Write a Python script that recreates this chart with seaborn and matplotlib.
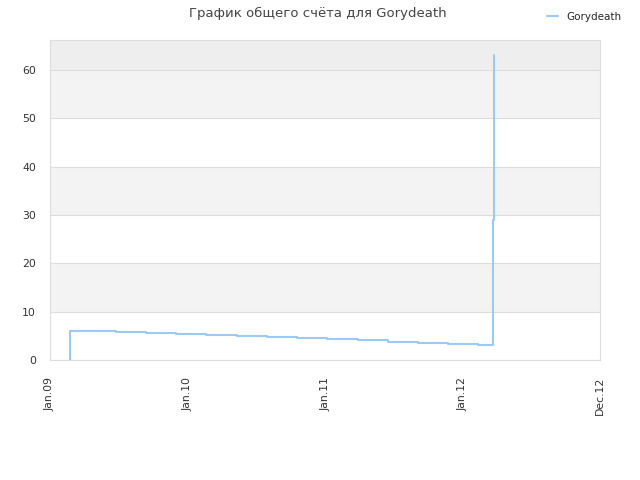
import matplotlib
matplotlib.use("Agg")
import matplotlib.pyplot as plt
import pandas as pd
import seaborn as sns

# score history (step series)
dates = ["2009-02-23", "2009-02-23", "2009-04-06", "2009-06-25", "2009-09-13",
         "2009-12-01", "2010-02-19", "2010-05-12", "2010-07-31", "2010-10-19",
         "2011-01-06", "2011-03-29", "2011-06-16", "2011-09-04", "2011-11-23",
         "2012-02-11", "2012-03-22", "2012-03-24"]
scores = [0, 6.1, 5.9, 5.7, 5.5, 5.3, 5.1, 4.9, 4.7, 4.5,
          4.3, 4.1, 3.8, 3.6, 3.4, 3.2, 29.0, 63.1]

tick_dates = ["2009-01-01", "2010-01-01", "2011-01-01", "2012-01-01", "2012-12-31"]
tick_labels = ["Jan.09", "Jan.10", "Jan.11", "Jan.12", "Dec.12"]
y_ticks = [0, 10, 20, 30, 40, 50, 60]

df = pd.DataFrame({"date": pd.to_datetime(dates), "score": scores})

sns.set_style("white")
fig, ax = plt.subplots(figsize=(6.4, 4.8), dpi=100)
fig.subplots_adjust(left=50 / 640, right=600 / 640, top=1 - 40 / 480, bottom=0.25)

# alternating bands
for lo in range(10, 60, 20):
    ax.axhspan(lo, lo + 10, color="#f3f3f3", zorder=0, lw=0)
ax.axhspan(60, 66.2, color="#eeeeee", zorder=0, lw=0)

sns.lineplot(data=df, x="date", y="score", estimator=None, sort=False,
             drawstyle="steps-post", color="#9ccaf7", linewidth=1.5,
             label="Gorydeath", ax=ax, zorder=3)

ax.set_xlim(pd.Timestamp("2009-01-01"), pd.Timestamp("2012-12-31"))
ax.set_ylim(0, 66.2)
ax.set_yticks(y_ticks)
ax.yaxis.grid(True, color="#dddddd", linewidth=0.8, zorder=1)
ax.set_axisbelow(True)
ax.set_xticks(pd.to_datetime(tick_dates))
ax.set_xticklabels(tick_labels, rotation=90)
ax.tick_params(axis="both", length=0, labelsize=7.8, colors="#333333")
ax.tick_params(axis="x", pad=12)
ax.tick_params(axis="y", pad=10)
ax.set_xlabel("")
ax.set_ylabel("")
for sp in ax.spines.values():
    sp.set_color("#dddddd")
    sp.set_linewidth(0.8)

ax.legend_.remove()
fig.legend(loc="upper right", bbox_to_anchor=(0.985, 0.995), frameon=False,
           fontsize=7.5, handlelength=1.0, handletextpad=0.8)
fig.text(0.497, 0.972, "График общего счёта для Gorydeath", ha="center", va="center",
         fontsize=9.5, color="#444444")

fig.savefig("out.png", dpi=100)
